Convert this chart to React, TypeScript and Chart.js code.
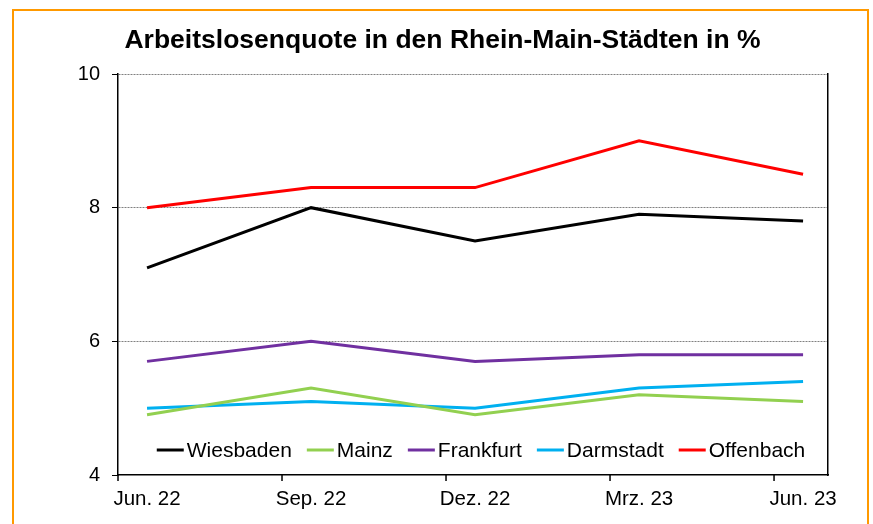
import React, { useEffect, useRef } from "react";
import { Chart, registerables } from "chart.js";

Chart.register(...registerables);

const labels = ["Jun. 22", "Sep. 22", "Dez. 22", "Mrz. 23", "Jun. 23"];
const wiesbaden = [7.1, 8.0, 7.5, 7.9, 7.8];
const mainz = [4.9, 5.3, 4.9, 5.2, 5.1];
const frankfurt = [5.7, 6.0, 5.7, 5.8, 5.8];
const darmstadt = [5.0, 5.1, 5.0, 5.3, 5.4];
const offenbach = [8.0, 8.3, 8.3, 9.0, 8.5];
const yTicks = [4, 6, 8, 10];
const seriesNames = ["Wiesbaden", "Mainz", "Frankfurt", "Darmstadt", "Offenbach"];
const seriesColors = ["#000000", "#92D050", "#7030A0", "#00B0F0", "#FF0000"];

const X_MIN = -0.177;
const X_MAX = 4.152;
const FONT = "'Liberation Sans', Arial, sans-serif";

const xTickMarks = {
  id: "xTickMarks",
  afterDraw(chart: any) {
    const { ctx, chartArea, scales } = chart;
    const xs = scales.x;
    ctx.save();
    ctx.strokeStyle = "#000";
    ctx.lineWidth = 1.5;
    for (let i = 0; i < labels.length; i++) {
      const px = xs.getPixelForValue(X_MIN + i);
      if (px > chartArea.right + 0.5) continue;
      ctx.beginPath();
      ctx.moveTo(px, chartArea.bottom);
      ctx.lineTo(px, chartArea.bottom + 6);
      ctx.stroke();
    }
    ctx.restore();
  },
};

const innerLegend = {
  id: "innerLegend",
  afterDraw(chart: any) {
    const { ctx, chartArea } = chart;
    const ds = chart.data.datasets;
    ctx.save();
    ctx.font = `21px ${FONT}`;
    ctx.textBaseline = "middle";
    ctx.textAlign = "left";
    const sample = 27;
    const gapText = 3;
    const gapItem = 15;
    let total = 0;
    ds.forEach((d: any, i: number) => {
      total += sample + gapText + ctx.measureText(d.label).width;
      if (i < ds.length - 1) total += gapItem;
    });
    const cx = (chartArea.left + chartArea.right) / 2 + 8;
    let x = cx - total / 2;
    const y = chartArea.bottom - 25;
    ds.forEach((d: any) => {
      ctx.strokeStyle = d.borderColor;
      ctx.lineWidth = 3;
      ctx.beginPath();
      ctx.moveTo(x, y);
      ctx.lineTo(x + sample, y);
      ctx.stroke();
      x += sample + gapText;
      ctx.fillStyle = "#000";
      ctx.fillText(d.label, x, y + 1);
      x += ctx.measureText(d.label).width + gapItem;
    });
    ctx.restore();
  },
};

export default function App() {
  const ref = useRef<HTMLCanvasElement | null>(null);

  useEffect(() => {
    if (!ref.current) return;
    const allSeries = [wiesbaden, mainz, frankfurt, darmstadt, offenbach];
    const chart = new Chart(ref.current, {
      type: "line",
      data: {
        datasets: allSeries.map((vals, si) => ({
          label: seriesNames[si],
          data: vals.map((v, i) => ({ x: i, y: v })),
          borderColor: seriesColors[si],
          backgroundColor: seriesColors[si],
          borderWidth: 3,
          pointRadius: 0,
          tension: 0,
          fill: false,
        })),
      },
      options: {
        animation: false,
        responsive: false,
        devicePixelRatio: 1,
        layout: { padding: { left: 12, right: 0, top: 0, bottom: 0 } },
        plugins: {
          legend: { display: false },
          tooltip: { enabled: false },
          title: {
            display: true,
            text: "Arbeitslosenquote in den Rhein-Main-Städten in %",
            color: "#000",
            font: { family: FONT, size: 26.5, weight: "bold" },
            padding: { top: 25, bottom: 17.2 },
          },
        },
        scales: {
          x: {
            type: "linear",
            min: X_MIN,
            max: X_MAX,
            afterBuildTicks: (s: any) => {
              s.ticks = labels.map((_, i) => ({ value: i }));
            },
            afterFit: (s: any) => {
              s.height = 49;
            },
            grid: { display: false },
            border: { display: true, color: "#000", width: 1.5 },
            ticks: {
              autoSkip: false,
              maxRotation: 0,
              padding: 4,
              color: "#000",
              font: { family: FONT, size: 20.5 },
              callback: (v: any) => labels[Math.round(v)] ?? "",
            },
          },
          y: {
            min: 4,
            max: 10,
            afterBuildTicks: (s: any) => {
              s.ticks = yTicks.map((v) => ({ value: v }));
            },
            afterFit: (s: any) => {
              s.width = 106;
            },
            grid: {
              color: (c: any) => (c.tick && c.tick.value === 4 ? "rgba(0,0,0,0)" : "#808080"),
              lineWidth: 1,
              tickColor: "#000",
              tickLength: 6,
              tickBorderDash: [],
            },
            border: { display: true, color: "#000", width: 1.5, dash: [2, 1] },
            ticks: {
              padding: 12,
              color: "#000",
              font: { family: FONT, size: 20 },
            },
          },
          y2: {
            position: "right",
            min: 4,
            max: 10,
            afterFit: (s: any) => {
              s.width = 45;
            },
            grid: { display: false },
            border: { display: true, color: "#000", width: 1.5 },
            ticks: { display: false },
          },
        },
      } as any,
      plugins: [xTickMarks, innerLegend],
    });
    return () => chart.destroy();
  }, []);

  return (
    <div
      style={{
        position: "fixed",
        left: 0,
        top: 0,
        width: 873,
        height: 524,
        background: "#fff",
        overflow: "hidden",
      }}
    >
      <div
        style={{
          position: "absolute",
          left: 12,
          top: 9,
          width: 857,
          height: 600,
          border: "2px solid #FF9900",
          boxSizing: "border-box",
        }}
      />
      <canvas
        ref={ref}
        width={873}
        height={524}
        style={{ position: "absolute", left: 0, top: 0, width: 873, height: 524 }}
      />
    </div>
  );
}
